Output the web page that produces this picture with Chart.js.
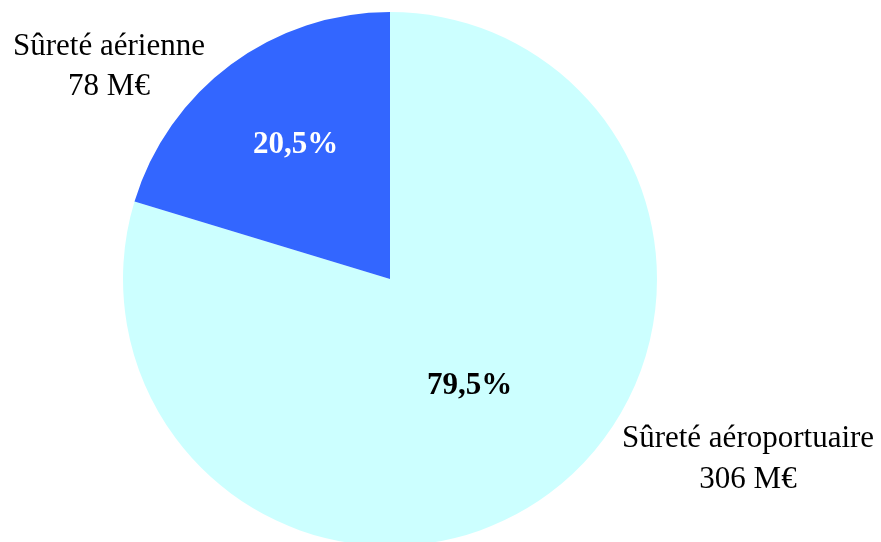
<!DOCTYPE html>
<html>
<head>
<meta charset="utf-8">
<script src="https://cdn.jsdelivr.net/npm/chart.js@4.4.0/dist/chart.umd.min.js"></script>
<style>
    html, body { margin: 0; padding: 0; background: #fff; overflow: hidden; }
    #wrap { position: relative; width: 881px; height: 560px; }
</style>
</head>
<body>
<div id="wrap"><canvas id="myChart" width="881" height="560"></canvas></div>
<script>
const labels = ['Sûreté aéroportuaire', 'Sûreté aérienne'];
const amounts = [306, 78];
const amountLabels = ['306 M€', '78 M€'];
const percentLabels = ['79,5%', '20,5%'];

document.addEventListener('DOMContentLoaded', function () {
    const font = '"Liberation Serif", "Times New Roman", serif';

    // label text drawn on top of the slices, plus names outside
    const sliceLabels = {
        id: 'sliceLabels',
        afterDraw(chart) {
            const ctx = chart.ctx;
            const arcs = chart.getDatasetMeta(0).data;
            ctx.save();
            ctx.textAlign = 'center';
            ctx.textBaseline = 'middle';
            arcs.forEach((arc, i) => {
                const mid = (arc.startAngle + arc.endAngle) / 2;
                const f = i === 0 ? 0.5 : 0.625;
                const x = arc.x + Math.cos(mid) * arc.outerRadius * f + (i === 0 ? 0 : 5);
                const y = arc.y + Math.sin(mid) * arc.outerRadius * f;
                ctx.font = 'bold 31px ' + font;
                ctx.fillStyle = i === 0 ? '#000' : '#fff';
                ctx.fillText(percentLabels[i], x, y);
            });
            const arc = arcs[0];
            ctx.font = '31px ' + font;
            ctx.fillStyle = '#000';
            ctx.textBaseline = 'alphabetic';
            // outside names
            ctx.fillText(labels[1], arc.x - 281, arc.y - 224);
            ctx.fillText(amountLabels[1], arc.x - 281, arc.y - 184);
            ctx.fillText(labels[0], arc.x + 358, arc.y + 168);
            ctx.fillText(amountLabels[0], arc.x + 358, arc.y + 209);
            ctx.restore();
        }
    };

    const ctx1 = document.getElementById('myChart').getContext('2d');
    const myChart = new Chart(ctx1, {
        type: 'pie',
        data: {
            labels: labels,
            datasets: [{
                data: amounts,
                backgroundColor: ['#CCFFFF', '#3366FF'],
                borderWidth: 0
            }]
        },
        options: {
            responsive: false,
            animation: false,
            layout: { padding: { left: 123, right: 224, top: 12, bottom: 14 } },
            plugins: {
                legend: { display: false },
                tooltip: { enabled: false }
            }
        },
        plugins: [sliceLabels]
    });
});
</script>
</body>
</html>
